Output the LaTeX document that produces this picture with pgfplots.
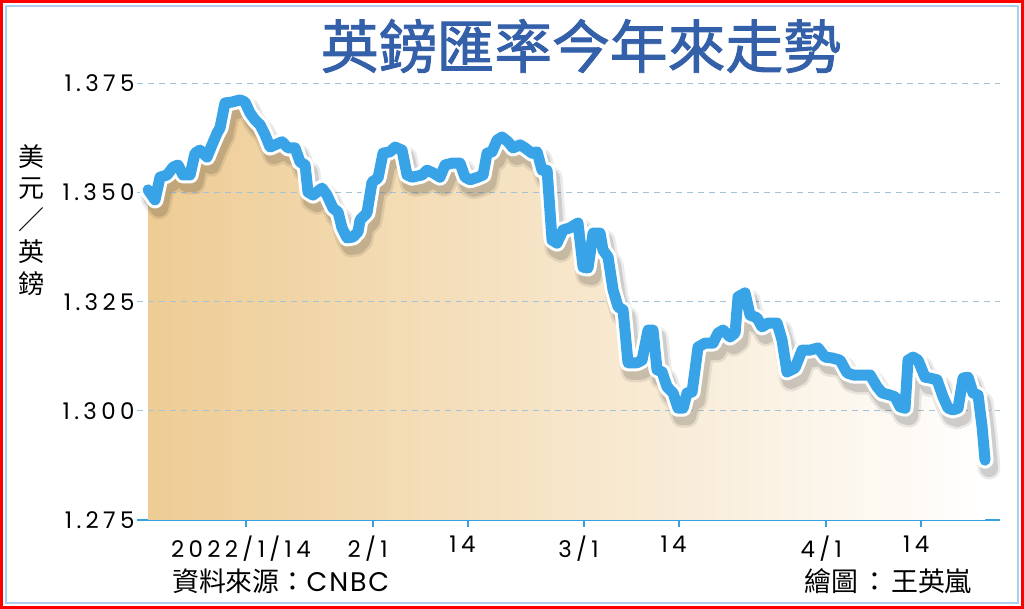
\documentclass[border=0pt]{standalone}
\usepackage{fontspec}
\setmainfont{Poppins}[Numbers=Monospaced, LetterSpace=19]
\newfontfamily\latin{Poppins}[LetterSpace=7]
\newfontfamily\cjk{Noto Sans CJK TC}
\newfontfamily\cjkt[FakeBold=1.6]{Noto Sans CJK TC}
\usepackage{pgfplots}
\usepackage{pgfplotstable}
\pgfplotsset{compat=1.18}
\definecolor{linebl}{RGB}{56,163,230}
\definecolor{titlebl}{RGB}{52,96,170}
\definecolor{gridbl}{RGB}{165,195,215}
\definecolor{axisbl}{RGB}{55,160,225}
\definecolor{tanc}{RGB}{238,204,148}
\definecolor{frameb}{RGB}{175,205,240}

% x = trading day since 2022/1/3, v = USD per GBP
\pgfplotstableread{
i v
-0.28 1.3506
0.38 1.3483
0.85 1.3535
1.52 1.3540
2.09 1.3558
2.56 1.3563
3.03 1.3540
3.70 1.3540
4.17 1.3590
4.64 1.3597
5.31 1.3581
5.78 1.3609
6.26 1.3636
6.54 1.3648
7.01 1.3705
7.68 1.3707
8.44 1.3712
8.91 1.3707
9.38 1.3682
9.86 1.3666
10.33 1.3655
10.81 1.3632
11.28 1.3604
11.75 1.3609
12.42 1.3616
12.99 1.3602
13.65 1.3602
14.12 1.3570
14.60 1.3563
14.88 1.3501
15.36 1.3494
16.21 1.3510
16.68 1.3494
17.25 1.3464
17.73 1.3455
18.10 1.3419
18.58 1.3396
19.15 1.3398
19.62 1.3410
19.81 1.3437
20.47 1.3453
20.95 1.3524
21.52 1.3533
21.99 1.3590
22.65 1.3593
23.13 1.3604
23.79 1.3597
24.27 1.3540
24.74 1.3535
25.69 1.3540
26.16 1.3551
26.73 1.3545
27.39 1.3535
27.87 1.3563
28.53 1.3567
29.29 1.3567
29.76 1.3535
30.24 1.3529
30.99 1.3535
31.47 1.3540
31.85 1.3590
32.32 1.3593
32.80 1.3620
33.27 1.3627
33.84 1.3616
34.31 1.3602
34.98 1.3609
35.45 1.3602
36.11 1.3590
36.59 1.3593
37.06 1.3551
37.54 1.3551
38.01 1.3391
38.48 1.3384
39.05 1.3414
39.72 1.3419
40.47 1.3430
40.95 1.3329
41.42 1.3327
41.90 1.3407
42.56 1.3407
42.84 1.3368
43.32 1.3352
43.79 1.3277
44.27 1.3238
44.74 1.3231
45.21 1.3110
46.07 1.3110
46.54 1.3116
47.11 1.3185
47.58 1.3185
47.96 1.3094
48.44 1.3089
48.91 1.3055
49.48 1.3041
49.95 1.3006
50.43 1.3006
50.81 1.3041
51.28 1.3043
51.85 1.3146
52.51 1.3155
53.27 1.3155
53.74 1.3178
54.22 1.3185
54.88 1.3169
55.36 1.3178
55.64 1.3261
56.30 1.3270
56.78 1.3219
57.44 1.3213
57.91 1.3192
58.48 1.3201
59.34 1.3201
59.81 1.3162
60.28 1.3089
61.04 1.3098
61.71 1.3139
62.46 1.3139
63.22 1.3144
63.89 1.3123
64.55 1.3121
65.31 1.3116
65.97 1.3087
66.54 1.3082
68.15 1.3082
68.82 1.3055
69.29 1.3041
70.05 1.3036
70.52 1.3032
71.00 1.3009
71.47 1.3006
71.75 1.3116
72.23 1.3123
72.70 1.3116
73.36 1.3077
73.84 1.3075
74.50 1.3071
75.07 1.3032
75.55 1.3006
76.02 1.3002
76.49 1.3006
76.97 1.3075
77.44 1.3077
77.91 1.3041
78.39 1.3036
78.77 1.2963
79.05 1.2887
}\gbp

\begin{document}
\begin{tikzpicture}[x=1bp,y=1bp]
\useasboundingbox (0,0) rectangle (1024,609);
\fill[white] (0,0) rectangle (1024,609);
\draw[red, line width=3bp] (1.5,1.5) rectangle (1022.5,607.5);
\draw[frameb, line width=1.5bp] (6,6) rectangle (1018,603);

\begin{axis}[
  at={(137bp,89bp)}, anchor=south west,
  width=863bp, height=436.7bp, scale only axis,
  xmin=-1.33, xmax=80.47, ymin=1.275, ymax=1.375,
  axis x line*=bottom, axis y line*=left,
  y axis line style={draw=none},
  x axis line style={axisbl, line width=2.5bp, -},
  xtick={9,21,30,41,50,64,73},
  xticklabels={2022/1/14,2/1,14,3/1,14,4/1,14},
  ytick={1.275,1.3,1.325,1.35,1.375},
  yticklabels={1.275,1.300,1.325,1.350,1.375},
  tick align=outside,
  x tick style={axisbl, line width=2bp},
  y tick style={draw=none},
  major tick length=7bp,
  tick label style={font=\fontsize{23}{23}\selectfont, black},
  xticklabel style={yshift=-5bp, xshift=-5bp},
  yticklabel style={xshift=8bp},
  no markers,
]
\addplot[draw=none, left color=tanc, right color=white] table {\gbp} \closedcycle;
% dashed grid lines drawn over the fill, under the line
\addplot[gridbl, line width=1bp, dash pattern=on 6bp off 5bp] coordinates {(-1.33,1.3) (80.47,1.3)};
\addplot[gridbl, line width=1bp, dash pattern=on 6bp off 5bp] coordinates {(-1.33,1.325) (80.47,1.325)};
\addplot[gridbl, line width=1bp, dash pattern=on 6bp off 5bp] coordinates {(-1.33,1.35) (80.47,1.35)};
\addplot[gridbl, line width=1bp, dash pattern=on 6bp off 5bp] coordinates {(-1.33,1.375) (80.47,1.375)};
\begin{scope}[xshift=2bp, yshift=-4bp]
\addplot[black, opacity=0.08, line width=23bp, line join=round, line cap=round] table {\gbp};
\addplot[black, opacity=0.12, line width=18bp, line join=round, line cap=round] table {\gbp};
\end{scope}
\addplot[white, line width=17bp, line join=round, line cap=round] table {\gbp};
\addplot[linebl, line width=11bp, line join=round, line cap=round] table {\gbp};
\end{axis}

\node[font=\cjkt\fontsize{58}{58}\selectfont, text=titlebl] at (581,563) {英鎊匯率今年來走勢};
\node[font=\cjk\fontsize{26}{32}\selectfont, align=center] at (31,389) {美\\元\\／\\英\\鎊};
\node[font=\cjk\fontsize{27}{27}\selectfont, anchor=west, inner sep=0pt] at (172,28) {資料來源：{\latin CNBC}};
\node[font=\cjk\fontsize{27}{27}\selectfont, anchor=east, inner sep=0pt] at (972,28) {繪圖\hspace{3bp}：\hspace{3bp}王英嵐};
\end{tikzpicture}
\end{document}
